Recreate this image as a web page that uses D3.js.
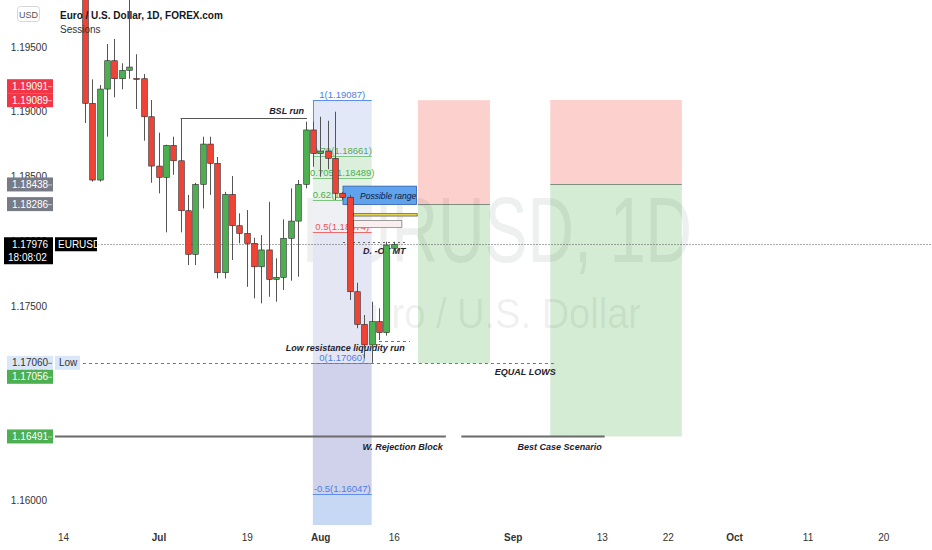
<!DOCTYPE html>
<html><head><meta charset="utf-8">
<script src="https://cdn.jsdelivr.net/npm/d3@7"></script>
<style>body{margin:0;background:#fff}svg{display:block}</style>
</head><body><svg id="c" width="932" height="550"></svg>
<script>
// ---------------- DATA ----------------
const opens  = [1.1995,1.19065,1.18472,1.19175,1.19394,1.19255,1.1932,1.19257,1.19255,1.18961,1.1858,1.18493,1.1874,1.18621,1.18235,1.17898,1.18439,1.1875,1.18601,1.17756,1.18361,1.18119,1.1806,1.17983,1.17802,1.17932,1.17704,1.1772,1.18022,1.18155,1.18439,1.18859,1.18678,1.18696,1.1864,1.1837,1.18339,1.17609,1.17357,1.17198,1.17378,1.17293,1.17945];
const highs  = [1.2004,1.1925,1.19206,1.19523,1.19562,1.19374,1.1990,1.19444,1.19291,1.1909,1.18838,1.18745,1.18807,1.18949,1.18357,1.1845,1.18807,1.18807,1.1865,1.18381,1.18503,1.18215,1.1824,1.18026,1.18047,1.18304,1.17867,1.18168,1.18408,1.18472,1.18923,1.18923,1.18961,1.1893,1.19,1.18381,1.18357,1.17679,1.17429,1.17532,1.17481,1.17995,1.17995];
const lows   = [1.18913,1.1846,1.1846,1.18807,1.19111,1.19173,1.19255,1.19021,1.18776,1.18451,1.18369,1.18068,1.18513,1.18068,1.17815,1.17815,1.18253,1.18357,1.17712,1.17712,1.17854,1.17983,1.17647,1.17558,1.17519,1.1757,1.17532,1.17622,1.17694,1.17725,1.18408,1.18575,1.18498,1.18555,1.18318,1.18318,1.17545,1.17327,1.17095,1.1706,1.17236,1.1727,1.1794];
const closes = [1.19065,1.18472,1.19175,1.19394,1.19255,1.1932,1.19345,1.19255,1.18961,1.1858,1.18493,1.1874,1.18621,1.18235,1.17898,1.18439,1.1875,1.18601,1.17756,1.18361,1.18119,1.1806,1.17983,1.17802,1.17932,1.17704,1.1772,1.18022,1.18155,1.18439,1.18859,1.18678,1.18696,1.1864,1.1837,1.18339,1.17609,1.17357,1.17198,1.17378,1.17293,1.1797,1.17976];

const timeTickBars   = [-3,10,22,32,42,58.2,70.3,79.3,88.3,98.3,108.6];
const timeTickLabels = ["14","Jul","19","Aug","16","Sep","13","22","Oct","11","20"];
const monthLabels    = ["Jul","Aug","Sep","Oct"];
const priceTicks     = [1.195,1.19,1.185,1.18,1.175,1.17,1.165,1.16];

const lastPrice = 1.17976;
const countdown = "18:08:02";
const symbol = "EURUSD";
const titleText = "Euro / U.S. Dollar, 1D, FOREX.com";
const indicatorText = "Sessions";
const currency = "USD";

const fibHigh = 1.19087, fibLow = 1.1706;
const fibLevels = [1,0.79,0.705,0.62,0.5,0,-0.5,-1];
const fibBars = [31,39];

const positionA = {bars:[45.3,55.1], stop:1.19089, entry:1.18286, target:1.17056};
const positionB = {bars:[63.3,81.2], stop:1.19091, entry:1.18438, target:1.16491};

const bslLine = {bars:[13,30.2], price:1.18949, text:"BSL run"};
const lowLine = {bars:[-6,63.9], price:fibLow, text:"Low"};
const rejectionLine = {bars:[-6,49.1], price:1.16491, text:"W. Rejection Block"};
const bestCaseLine = {bars:[51.2,70.7], price:1.16491, text:"Best Case Scenario"};
const possibleRange = {bars:[35.1,45.1], top:1.18425, bottom:1.18283, text:"Possible range"};
const yellowZone = {bars:[36.5,45.2], top:1.18212, bottom:1.18194};
const pinkZone = {bars:[36.5,43.1], top:1.18159, bottom:1.18105};
const bar40Low = {bars:[40,44.2], price:1.17231};
const oteLine = {bars:[35.1,43.8], price:1.1799, text:"D. -OT MT"};
const liquidityText = {bar:35.4, text:"Low resistance liquidity run"};
const equalLowsText = {bar:59.9, text:"EQUAL LOWS"};

// ---------------- SETUP ----------------
const W=932, H=550, plotL=55, plotB=525;
const FONT = "'Liberation Sans', Arial, sans-serif";
const svg = d3.select("#c");
const x = d3.scaleLinear().domain([0,100]).range([85,820]);
const y = d3.scaleLinear().domain([1.16,1.195]).range([500,47]);
const step = x(1)-x(0);

svg.append("rect").attr("width",W).attr("height",H).attr("fill","#fff");
svg.append("defs").append("clipPath").attr("id","plot")
  .append("rect").attr("x",plotL).attr("y",0).attr("width",W-plotL).attr("height",plotB);
const plot = svg.append("g").attr("clip-path","url(#plot)");

function txt(g, px, py, s, o={}) {
  const t = g.append("text").attr("x",px).attr("y",py).text(s)
    .attr("font-family", o.ff || FONT).attr("font-size", o.fs || 10)
    .attr("font-weight", o.fw || "normal").attr("font-style", o.st || "normal")
    .attr("fill", o.fill || "#131722").attr("text-anchor", o.anchor || "start");
  if (o.len) t.attr("textLength", o.len).attr("lengthAdjust","spacingAndGlyphs");
  return t;
}
function hline(g, b0, b1, p, stroke, sw, dash) {
  const l = g.append("line").attr("x1",x(b0)).attr("x2",x(b1))
    .attr("y1",Math.round(y(p))+0.5).attr("y2",Math.round(y(p))+0.5)
    .attr("stroke",stroke).attr("stroke-width",sw||1);
  if (dash) l.attr("stroke-dasharray",dash);
  return l;
}

// ---------------- POSITION TOOLS ----------------
[positionA, positionB].forEach(p => {
  const x0=x(p.bars[0]), x1=x(p.bars[1]);
  plot.append("rect").attr("x",x0).attr("y",y(p.stop)).attr("width",x1-x0)
    .attr("height",y(p.entry)-y(p.stop)).attr("fill","#fcd0cd");
  plot.append("rect").attr("x",x0).attr("y",y(p.entry)).attr("width",x1-x0)
    .attr("height",y(p.target)-y(p.entry)).attr("fill","#d4ecd3");
  hline(plot, p.bars[0], p.bars[1], p.entry, "#7f8f7f", 1);
});

// ---------------- WATERMARK ----------------
txt(plot, 302, 262, "EURUSD, 1D", {fs:92, fill:"rgba(19,23,34,0.07)", len:390});
txt(plot, 345, 328, "Euro / U.S. Dollar", {fs:42, fill:"rgba(19,23,34,0.07)", len:296});

// ---------------- FIB ----------------
const fibPrice = l => fibLow + l*(fibHigh-fibLow);
const fibFill = {"1":"#e3e8f8","0.79":"#dcefdd","0.705":"#e5f2e6","0.62":"#eff0f3","0.5":"#e5e6f3","0":"#cfd2ea","-0.5":"#c7d8f4"};
const fibStroke = l => (l>=0.6 && l<1) ? "#7cc47f" : (l===0.5 ? "#f26b6b" : "#5d8ef0");
const fibText = l => (l>=0.6 && l<1) ? "#4caf50" : (l===0.5 ? "#ef5350" : "#4a7ee6");
const fx0 = x(fibBars[0]), fx1 = x(fibBars[1]);
const fibG = plot.append("g");
fibLevels.slice(0,-1).forEach((l,i) => {
  const yt = y(fibPrice(l)), yb = y(fibPrice(fibLevels[i+1]));
  fibG.append("rect").attr("x",fx0).attr("y",yt).attr("width",fx1-fx0).attr("height",yb-yt)
    .attr("fill",fibFill[String(l)]);
});
fibLevels.forEach(l => {
  const p = fibPrice(l);
  if (y(p) > plotB) return;
  hline(fibG, fibBars[0], fibBars[1], p, fibStroke(l), 1);
  const ps = (Math.round(p*1e5+1e-6)/1e5).toFixed(5);
  txt(fibG, (fx0+fx1)/2, y(p)-2, `${l}(${ps})`, {fs:9.5, fill:fibText(l), anchor:"middle"});
});
fibG.append("line").attr("x1",Math.round(fx0)+0.5).attr("x2",Math.round(fx0)+0.5)
  .attr("y1",y(fibHigh)).attr("y2",y(fibPrice(0.79))).attr("stroke","#5d8ef0");

// ---------------- ANNOTATIONS ----------------
const ann = plot.append("g");
hline(ann, -10, 200, lastPrice, "#555", 1, "1,2");
hline(ann, oteLine.bars[0], oteLine.bars[1], oteLine.price, "#666", 1, "2,3");
hline(ann, lowLine.bars[0], lowLine.bars[1], lowLine.price, "#777", 1, "3,3");
hline(ann, bar40Low.bars[0], bar40Low.bars[1], bar40Low.price, "#777", 1, "3,3");
hline(ann, bslLine.bars[0], bslLine.bars[1], bslLine.price, "#555", 1);
hline(ann, rejectionLine.bars[0], rejectionLine.bars[1], rejectionLine.price, "#6b6b6b", 2);
hline(ann, bestCaseLine.bars[0], bestCaseLine.bars[1], bestCaseLine.price, "#6b6b6b", 2);

const A = {fs:9, fw:"bold", st:"italic", fill:"#1e222d"};
txt(ann, x(bslLine.bars[1])-3, y(bslLine.price)-4, bslLine.text, {...A, anchor:"end"});
txt(ann, x(rejectionLine.bars[1])-3, y(rejectionLine.price)+14, rejectionLine.text, {...A, anchor:"end"});
txt(ann, x(bestCaseLine.bars[1])-3, y(bestCaseLine.price)+14, bestCaseLine.text, {...A, anchor:"end"});
txt(ann, x(equalLowsText.bar), y(fibLow)+12, equalLowsText.text, {...A, anchor:"middle"});
txt(ann, x(liquidityText.bar), y(fibLow)-12, liquidityText.text, {...A, anchor:"middle"});
txt(ann, x(oteLine.bars[0])+20, y(oteLine.price)+12, oteLine.text, {...A});

// possible range box + zones
const pr = possibleRange;
ann.append("rect").attr("x",x(pr.bars[0])).attr("y",y(pr.top)).attr("width",x(pr.bars[1])-x(pr.bars[0]))
  .attr("height",y(pr.bottom)-y(pr.top)).attr("fill","#5fa2ee").attr("stroke","#2f5fa8").attr("stroke-width",0.8);
txt(ann, x(pr.bars[0])+17, (y(pr.top)+y(pr.bottom))/2+3.5, pr.text, {fs:8.5, st:"italic", fill:"#0d1a3a"});
[[yellowZone,"#f3e04a","#555"],[pinkZone,"#fbeeee","#888"]].forEach(([z,f,s]) => {
  ann.append("rect").attr("x",x(z.bars[0])).attr("y",y(z.top)).attr("width",x(z.bars[1])-x(z.bars[0]))
    .attr("height",y(z.bottom)-y(z.top)).attr("fill",f).attr("stroke",s).attr("stroke-width",0.8);
});

// ---------------- CANDLES ----------------
const bw = step*0.76;
const red="#ef4336", green="#4caf50";
const cg = plot.append("g").selectAll("g").data(d3.range(opens.length)).join("g");
cg.append("line")
  .attr("x1",i=>Math.round(x(i))+0.5).attr("x2",i=>Math.round(x(i))+0.5)
  .attr("y1",i=>y(highs[i])).attr("y2",i=>y(lows[i]))
  .attr("stroke","#555").attr("stroke-width",1);
cg.append("rect")
  .attr("x",i=>Math.round(x(i))+0.5-bw/2)
  .attr("y",i=>y(Math.max(opens[i],closes[i])))
  .attr("width",bw)
  .attr("height",i=>Math.max(1,Math.abs(y(opens[i])-y(closes[i]))))
  .attr("fill",i=>closes[i]>=opens[i]?green:red)
  .attr("stroke","#2a2a2a").attr("stroke-width",0.6);

// ---------------- AXES ----------------
const yAxis = svg.append("g").attr("transform","translate(47,0)")
  .call(d3.axisLeft(y).tickValues(priceTicks).tickFormat(d3.format(".5f")).tickSize(0).tickPadding(0));
yAxis.select(".domain").remove();
yAxis.selectAll("text").attr("font-family",FONT).attr("font-size",10).attr("fill","#333");

const xAxis = svg.append("g").attr("transform",`translate(0,${plotB+6})`)
  .call(d3.axisBottom(x).tickValues(timeTickBars).tickFormat((d,i)=>timeTickLabels[i]).tickSize(0).tickPadding(3));
xAxis.select(".domain").remove();
xAxis.selectAll("text").attr("font-family",FONT).attr("font-size",10).attr("fill","#333")
  .attr("font-weight",(d,i)=>monthLabels.includes(timeTickLabels[i])?"bold":"normal");

// ---------------- PRICE SCALE LABELS ----------------
const lab = svg.append("g");
const markers = [
  {price:positionA.stop, kind:"red"},
  {price:positionB.stop, kind:"red"},
  {price:positionB.entry, kind:"gray"},
  {price:positionA.entry, kind:"gray"},
  {price:fibLow, kind:"low"},
  {price:positionA.target, kind:"green"},
  {price:positionB.target, kind:"green"}
];
const placed = [];
markers.forEach(m => {
  let py = y(m.price);
  let guard = 0;
  while (guard++ < 5) {
    const hit = placed.find(q => Math.abs(q.y-py) < 14);
    if (!hit) break;
    py = m.price >= hit.price ? hit.y-14 : hit.y+14;
  }
  m.y = py; placed.push(m);
});
const kindFill = {red:"#f23645", gray:"#787b86", low:"#d9e7f9", green:"#4caf50"};
markers.forEach(m => {
  const fg = m.kind==="low" ? "#333" : "#fff";
  lab.append("rect").attr("x",7).attr("y",m.y-7).attr("width",46).attr("height",14).attr("fill",kindFill[m.kind]);
  txt(lab, 12, m.y+3.5, m.price.toFixed(5), {fill:fg});
  lab.append("line").attr("x1",48).attr("x2",52).attr("y1",m.y+0.5).attr("y2",m.y+0.5).attr("stroke",fg).attr("stroke-opacity",0.6);
  if (m.kind==="low") {
    lab.append("rect").attr("x",55).attr("y",m.y-7).attr("width",25).attr("height",14).attr("fill",kindFill.low);
    txt(lab, 59, m.y+3.5, lowLine.text, {fill:"#333"});
  }
});
// last price
const ly = y(lastPrice);
lab.append("rect").attr("x",4).attr("y",ly-7).attr("width",49).attr("height",27).attr("fill","#000");
txt(lab, 12, ly+3.5, lastPrice.toFixed(5), {fill:"#fff"});
txt(lab, 8, ly+16.5, countdown, {fill:"#fff"});
lab.append("rect").attr("x",55).attr("y",ly-7).attr("width",42).attr("height",14).attr("fill","#000");
txt(lab, 58, ly+3.5, symbol, {fill:"#fff"});

// currency + title
svg.append("rect").attr("x",17.5).attr("y",6.5).attr("width",22).attr("height",15).attr("rx",3)
  .attr("fill","#fff").attr("stroke","#d6d6d6");
txt(svg, 28.5, 17.5, currency, {fs:9, fill:"#555", anchor:"middle"});
txt(svg, 60, 18.5, titleText, {fs:10, fw:"bold", fill:"#131722"});
txt(svg, 60, 33, indicatorText, {fs:10, fill:"#333"});
</script></body></html>
